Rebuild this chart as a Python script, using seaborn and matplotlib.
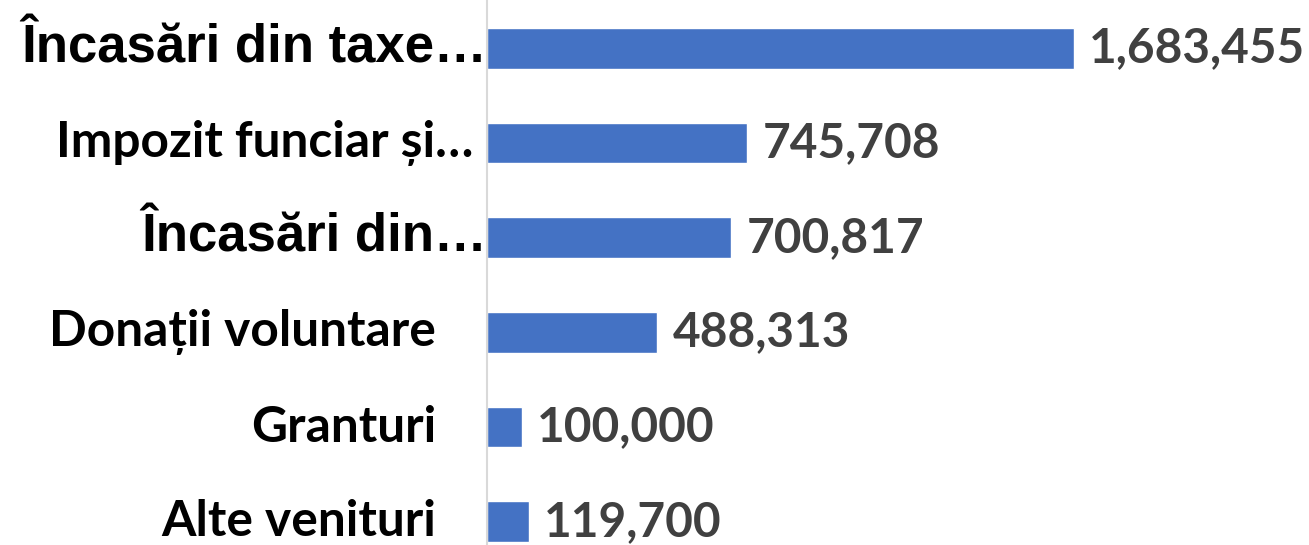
import matplotlib
matplotlib.use("Agg")
import matplotlib.pyplot as plt
import matplotlib.transforms as mtransforms
import seaborn as sns
import pandas as pd

# chart data
categories = ["Încasări din taxe…", "Impozit funciar și…", "Încasări din…",
              "Donații voluntare", "Granturi", "Alte venituri"]
values = [1683455, 745708, 700817, 488313, 100000, 119700]
value_labels = ["1,683,455", "745,708", "700,817", "488,313", "100,000", "119,700"]

# the truncated labels are drawn in a different (wider) face in the original
arial_like = [True, False, True, False, False, False]

sns.set_theme(style="white")
plt.rcParams['font.family'] = ['DejaVu Sans']

df = pd.DataFrame({"category": categories, "value": values})

fig = plt.figure(figsize=(13.09, 5.45), dpi=100)
# plot area runs a little past the bottom edge, as in the original export
ax = fig.add_axes([487 / 1309, -24 / 545, 1 - 487 / 1309, 568 / 545])

sns.barplot(data=df, y="category", x="value", orient="h", color="#4472C4",
            saturation=1, width=0.433, ax=ax)

ax.set_xlim(0, max(values) * 822 / 587)
ax.set_ylim(len(categories) - 0.5, -0.5)
ax.set_xlabel("")
ax.set_ylabel("")
ax.set_xticks([])
ax.set_yticks([])
for side in ["top", "right", "bottom"]:
    ax.spines[side].set_visible(False)
ax.spines["left"].set_color("#D9D9D9")
ax.spines["left"].set_linewidth(1.5)

# category labels on the left
trans = mtransforms.blended_transform_factory(ax.transAxes, ax.transData)
px = 1 / 822  # one pixel in axes fraction
for i, (lab, wide) in enumerate(zip(categories, arial_like)):
    if wide:
        ax.text(0, i, lab, transform=trans, ha="right", va="center",
                fontsize=38, fontweight="bold", family="Liberation Sans",
                color="black")
    else:
        right = -14 * px if lab.endswith("…") else -51 * px
        ax.text(right, i, lab, transform=trans, ha="right", va="center",
                fontsize=35.7, fontweight="bold", family="Lato", color="black")

# value labels after each bar
for i, (v, lab) in enumerate(zip(values, value_labels)):
    ax.annotate(lab, xy=(v, i), xytext=(11, 0), textcoords="offset points",
                ha="left", va="center", fontsize=34.4, fontweight="bold",
                family="Lato", color="#404040")

fig.savefig("out.png", dpi=100)
